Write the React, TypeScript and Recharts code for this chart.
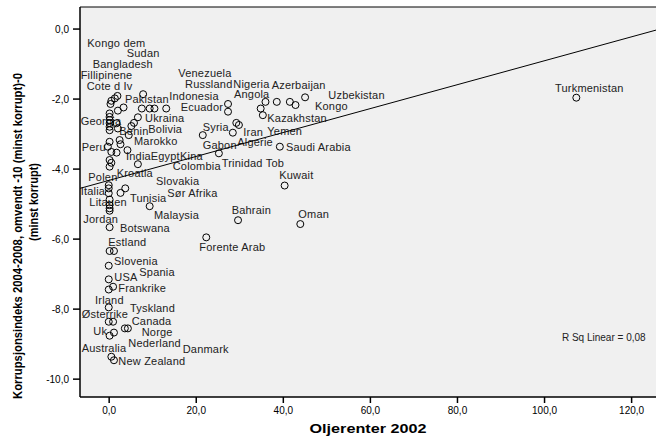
import React from 'react';
import {
  ScatterChart,
  Scatter,
  XAxis,
  YAxis,
  CartesianGrid,
  ReferenceLine
} from 'recharts';

// ========================================================
// DATA
// ========================================================
// oil rents 2002 (x) and inverted corruption index (y), one entry per circle
const pointX = [
  1.9, 1.3, 0.5, 0.3, 7.8, 3.3, 2.0,
  7.5, 9.3, 10.4, 13.1,
  0.1, 0.1, 0.1, 0.1, 0.1, 0.1,
  6.6, 5.7, 5.1, 1.7, 2.0, 4.5, 2.4, 2.6, 4.2,
  0.1, -0.3, 0.5, 1.7,
  0.1, 0.5, 0.1,
  6.6,
  -0.1, -0.1, -0.1, 2.6, 3.7,
  0.1, 0.1, 0.1, 0.1,
  9.3, 0.1, 0.1, 1.1, -0.1, -0.1, 0.9, -0.1, -0.1, -0.1, 0.9, 3.6, 4.3, 1.1, 0.1, 0.5, 1.1,
  27.3, 27.3, 35.9, 38.5, 41.5, 42.8, 45.0, 34.8, 35.3, 29.2, 29.8, 21.5, 28.4, 39.2, 25.2,
  40.3, 29.6, 43.9, 22.3, 107.3
];
const pointY = [
  -1.91, -1.98, -2.05, -2.14, -1.86, -2.24, -2.33,
  -2.27, -2.27, -2.27, -2.27,
  -2.41, -2.51, -2.6, -2.69, -2.79, -2.89,
  -2.52, -2.68, -2.77, -2.69, -2.84, -3.03, -3.17, -3.29, -3.46,
  -3.22, -3.36, -3.51, -3.53,
  -3.74, -3.82, -3.93,
  -3.86,
  -4.46, -4.55, -4.69, -4.68, -4.55,
  -4.87, -5.03, -5.12, -5.19,
  -5.06, -5.66, -6.34, -6.34, -6.76, -7.15, -7.36, -7.44, -7.95, -8.36, -8.36, -8.55, -8.55, -8.67, -8.76, -9.36, -9.46,
  -2.14, -2.36, -2.08, -2.08, -2.08, -2.17, -1.95, -2.27, -2.46, -2.68, -2.74, -3.03, -2.96, -3.36, -3.55,
  -4.47, -5.46, -5.57, -5.95, -1.96
];

// case labels as SPSS placed them (left edge of the text, in data units)
const labelNames = [
  'Kongo dem', 'Sudan', 'Bangladesh', 'Fillipinene', 'Cote d Iv', 'Venezuela', 'Russland',
  'Nigeria', 'Azerbaijan', 'Angola', 'Uzbekistan', 'Kongo', 'Pakistan', 'Indonesia', 'Ecuador',
  'Kazakhstan', 'Georgia', 'Ukraina', 'Benin', 'Bolivia', 'Syria', 'Iran', 'Yemen', 'Marokko',
  'Algerie', 'Gabon', 'Saudi Arabia', 'Peru', 'India', 'Egypt', 'Kina', 'Colombia',
  'Trinidad Tob', 'Kuwait', 'Polen', 'Kroatia', 'Slovakia', 'Italia', 'Sør Afrika', 'Tunisia',
  'Litauen', 'Malaysia', 'Bahrain', 'Oman', 'Jordan', 'Botswana', 'Forente Arab', 'Estland',
  'Slovenia', 'Spania', 'USA', 'Frankrike', 'Irland', 'Tyskland', 'Østerrike', 'Canada', 'Uk',
  'Norge', 'Nederland', 'Danmark', 'Australia', 'New Zealand', 'Turkmenistan'
];
const labelX = [
  -5.02, 4.03, -3.78, -6.54, -5.16, 15.88, 17.42,
  28.51, 37.33, 28.67, 50.33, 47.27, 3.64, 13.81, 16.43,
  36.32, -6.54, 8.23, 2.33, 8.99, 21.48, 30.81, 36.32, 5.7,
  29.43, 21.48, 40.61, -6.31, 3.87, 9.54, 16.27, 14.59,
  25.85, 39.07, -4.79, 1.73, 10.76, -6.54, 13.35, 4.78,
  -4.56, 10.3, 28.14, 43.44, -5.94, 2.49, 20.7, -0.2,
  1.11, 6.92, 1.18, 2.1, -3.25, 4.78, -6.31, 5.17, -3.65,
  7.47, 4.39, 16.89, -6.31, 2.1, 102.4
];
const labelY = [
  -0.39, -0.68, -1.0, -1.31, -1.63, -1.26, -1.57,
  -1.57, -1.6, -1.86, -1.88, -2.2, -1.99, -1.91, -2.23,
  -2.54, -2.63, -2.54, -2.91, -2.86, -2.8, -2.94, -2.91, -3.2,
  -3.23, -3.31, -3.37, -3.37, -3.63, -3.63, -3.63, -3.91,
  -3.83, -4.17, -4.23, -4.11, -4.34, -4.63, -4.68, -4.83,
  -4.94, -5.31, -5.17, -5.28, -5.43, -5.68, -6.23, -6.08,
  -6.63, -6.94, -7.08, -7.4, -7.74, -7.97, -8.14, -8.34, -8.63,
  -8.66, -8.97, -9.14, -9.11, -9.48, -1.68
];

// linear fit line, ends read at the plot edges
const fitX = [-6.7, 125.6];
const fitY = [-4.55, -0.03];

const xTicks = [0, 20, 40, 60, 80, 100, 120];
const yTicks = [0, -2, -4, -6, -8, -10];
const rSqText = 'R Sq Linear = 0,08';

const xTitle = 'Oljerenter 2002';
const yTitle1 = 'Korrupsjonsindeks 2004-2008, omvendt -10 (minst korrupt)-0';
const yTitle2 = '(minst korrupt)';

// ========================================================
// BUILD SERIES
// ========================================================
const points = pointX.map((x, i) => ({ x, y: pointY[i] }));
const labels = labelNames.map((name, i) => ({ x: labelX[i], y: labelY[i], name }));
const fitLine = fitX.map((x, i) => ({ x, y: fitY[i] }));

const X_DOMAIN: [number, number] = [-6.7, 125.6];
const Y_DOMAIN: [number, number] = [-10.51, 0.63];

const FONT = '"Liberation Sans", Arial, sans-serif';
const fmt = (v: number) => v.toFixed(1).replace('.', ',');

const CircleMark = (props: any) => (
  <circle cx={props.cx} cy={props.cy} r={3.5} fill="none" stroke="#000" strokeWidth={1} />
);

const CaseLabel = (props: any) => (
  <text
    x={props.cx}
    y={props.cy}
    dy="0.35em"
    fontSize={11}
    letterSpacing={0.2}
    fontFamily={FONT}
    fill="#222"
  >
    {props.payload.name}
  </text>
);

const NoMark = () => <g />;

const XTitle = (props: any) => {
  const vb = props.viewBox || {};
  const cx = vb.x + vb.width / 2;
  return (
    <text
      x={cx}
      y={428}
      dy="0.35em"
      textAnchor="middle"
      fontSize={13}
      fontWeight="bold"
      fontFamily={FONT}
      textLength={117}
      lengthAdjust="spacingAndGlyphs"
      fill="#000"
    >
      {xTitle}
    </text>
  );
};

const YTitle = () => (
  <g fontFamily={FONT} fontWeight="bold" fontSize={13} fill="#000">
    <text
      x={17}
      y={236}
      dy="0.35em"
      textAnchor="middle"
      transform="rotate(-90, 17, 236)"
      textLength={326}
      lengthAdjust="spacingAndGlyphs"
    >
      {yTitle1}
    </text>
    <text
      x={33}
      y={202}
      dy="0.35em"
      textAnchor="middle"
      transform="rotate(-90, 33, 202)"
      textLength={78}
      lengthAdjust="spacingAndGlyphs"
    >
      {yTitle2}
    </text>
  </g>
);

const RSqLabel = (props: any) => {
  const vb = props.viewBox || {};
  return (
    <text x={vb.x} y={vb.y} dy="0.35em" fontSize={10} fontFamily={FONT} fill="#222">
      {rSqText}
    </text>
  );
};

export default function App() {
  return (
    <div style={{ position: 'absolute', left: 0, top: 0, width: 656, height: 439, background: '#fff' }}>
      <ScatterChart width={656} height={439} margin={{ top: 7, right: 0, bottom: 0, left: 0 }}>
        <CartesianGrid horizontal={false} vertical={false} fill="#F0F0F0" />
        <XAxis
          type="number"
          dataKey="x"
          domain={X_DOMAIN}
          ticks={xTicks}
          allowDataOverflow
          height={42}
          tickSize={6}
          tickMargin={4}
          tickFormatter={fmt}
          stroke="#000"
          strokeWidth={1.5}
          tick={{ fontSize: 10, fill: '#000', fontFamily: FONT }}
          label={<XTitle />}
        />
        <YAxis
          type="number"
          dataKey="y"
          domain={Y_DOMAIN}
          ticks={yTicks}
          allowDataOverflow
          width={80}
          tickSize={7}
          tickMargin={4}
          tickFormatter={fmt}
          stroke="#000"
          strokeWidth={1.5}
          tick={{ fontSize: 10, fill: '#000', fontFamily: FONT }}
          label={<YTitle />}
        />
        <ReferenceLine y={0.63} stroke="#000" strokeWidth={1} ifOverflow="extendDomain" />
        <Scatter data={labels} shape={CaseLabel} isAnimationActive={false} />
        <Scatter
          data={fitLine}
          line={{ stroke: '#000', strokeWidth: 1 }}
          shape={NoMark}
          isAnimationActive={false}
        />
        <Scatter data={points} shape={CircleMark} isAnimationActive={false} />
        <ReferenceLine
          segment={[{ x: 104.0, y: -8.8 }, { x: 104.0, y: -8.8 }]}
          stroke="none"
          label={<RSqLabel />}
        />
      </ScatterChart>
    </div>
  );
}
